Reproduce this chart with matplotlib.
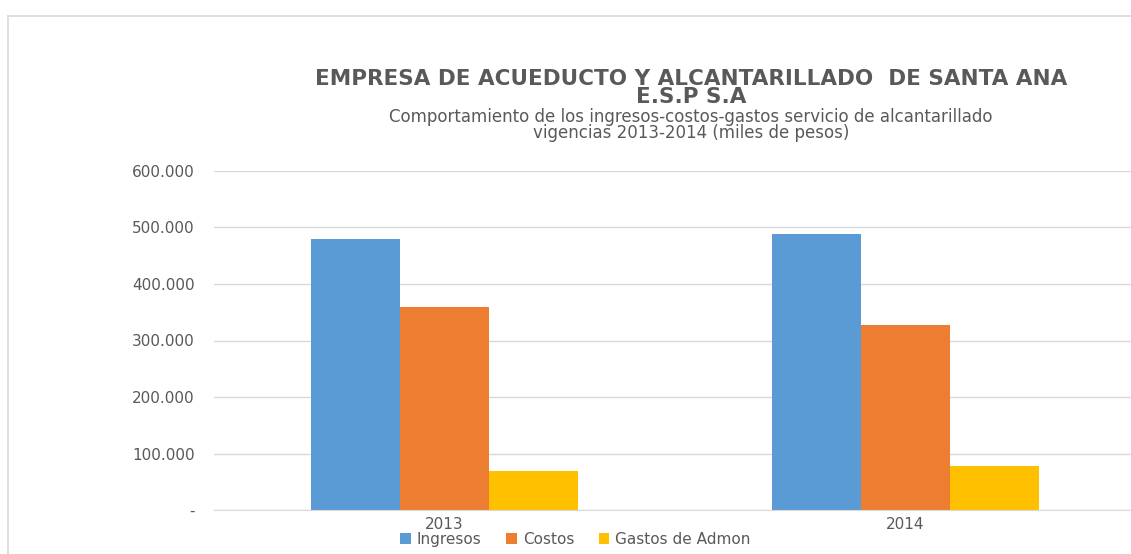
import matplotlib.pyplot as plt
import numpy as np
from matplotlib.lines import Line2D

# datos (miles de pesos)
years = ['2013', '2014']
ingresos = [480000, 488000]
costos = [359000, 327000]
gastos = [69000, 78000]
yticks = [0, 100000, 200000, 300000, 400000, 500000, 600000]

gray = '#595959'
fig = plt.figure(figsize=(11.31, 5.54), dpi=100)
ax = fig.add_axes([214/1131, 44/554, 917/1131, 339/554])

x = np.arange(len(years))
w = 0.193
ax.bar(x - w, ingresos, w, color='#5b9bd5', label='Ingresos', zorder=2)
ax.bar(x, costos, w, color='#ed7d31', label='Costos', zorder=2)
ax.bar(x + w, gastos, w, color='#ffc000', label='Gastos de Admon', zorder=2)

ax.set_xlim(-0.5, 1.49)
ax.set_ylim(0, 600000)
ax.set_yticks(yticks)
ax.set_yticklabels(['-' if v == 0 else f'{v:,}'.replace(',', '.') for v in yticks])
ax.set_xticks(x)
ax.set_xticklabels(years)
ax.tick_params(length=0, colors=gray, labelsize=11)
ax.tick_params(axis='y', pad=14)
ax.tick_params(axis='x', pad=5)
ax.grid(axis='y', color='#d9d9d9', linewidth=1, zorder=0)
for s in ['top', 'right', 'left']:
    ax.spines[s].set_visible(False)
ax.spines['bottom'].set_color('#d9d9d9')

ax.legend(loc='center', bbox_to_anchor=(0.394, -0.086), ncol=3, frameon=False,
          handlelength=0.7, handleheight=0.7, handletextpad=0.4, columnspacing=1.6,
          labelcolor=gray, prop={'size': 11}, borderpad=0)

# titulos
fig.text(691/1131, 1 - 79/554, 'EMPRESA DE ACUEDUCTO Y ALCANTARILLADO  DE SANTA ANA',
         ha='center', va='center', fontsize=15.5, fontweight='bold', color=gray)
fig.text(691/1131, 1 - 97/554, 'E.S.P S.A', ha='center', va='center',
         fontsize=15.5, fontweight='bold', color=gray)
fig.text(691/1131, 1 - 117/554,
         'Comportamiento de los ingresos-costos-gastos servicio de alcantarillado',
         ha='center', va='center', fontsize=12, color=gray)
fig.text(691/1131, 1 - 133/554, 'vigencias 2013-2014 (miles de pesos)',
         ha='center', va='center', fontsize=12, color=gray)

# borde del grafico
fig.add_artist(Line2D([8/1131, 1], [1 - 16/554, 1 - 16/554], color='#d9d9d9', lw=1.2))
fig.add_artist(Line2D([8/1131, 8/1131], [0, 1 - 16/554], color='#d9d9d9', lw=1.2))

fig.savefig('out.png', dpi=100)
